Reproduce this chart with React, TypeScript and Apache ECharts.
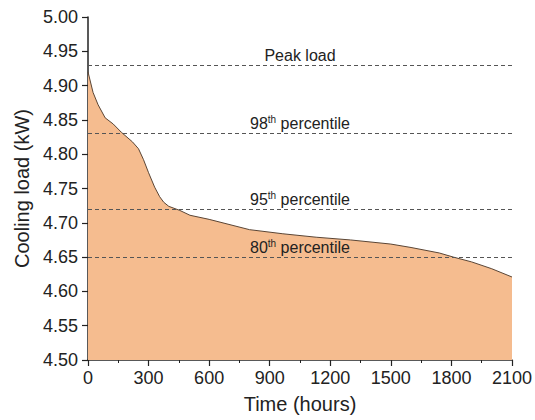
import React, { useEffect, useRef } from "react";
import * as echarts from "echarts";

const hours = [0, 25, 50, 85, 125, 165, 220, 250, 275, 300, 330, 355, 375, 400, 455, 505, 600, 800, 965, 1130, 1300, 1500, 1600, 1740, 1810, 1900, 2000, 2100];
const load = [4.92, 4.89, 4.872, 4.853, 4.844, 4.832, 4.818, 4.808, 4.792, 4.773, 4.752, 4.738, 4.73, 4.724, 4.718, 4.711, 4.705, 4.69, 4.684, 4.679, 4.675, 4.669, 4.664, 4.656, 4.65, 4.643, 4.633, 4.621];

const refNames = ["Peak load", "98", "95", "80"];
const refValues = [4.926, 4.831, 4.722, 4.65];

const font = "Liberation Sans, Arial, Helvetica, sans-serif";

export default function App() {
  const ref = useRef<HTMLDivElement>(null);
  useEffect(() => {
    if (!ref.current) return;
    const chart = echarts.init(ref.current, null, { renderer: "svg" });
    const data = hours.map((h, i) => [h, load[i]]);
    const markData = refValues.map((v, i) => ({
      yAxis: v,
      label: {
        formatter:
          i === 0 ? "{n|Peak load}" : `{n|${refNames[i]}}{sup|th}{n| percentile}`,
      },
    }));
    chart.setOption({
      animation: false,
      textStyle: { fontFamily: font },
      grid: { left: 88, right: 23, top: 17, bottom: 60 },
      xAxis: {
        type: "value",
        min: 0,
        max: 2100,
        interval: 300,
        name: "Time (hours)",
        nameLocation: "middle",
        nameGap: 34,
        nameTextStyle: { fontSize: 20, color: "#222", fontFamily: font },
        axisLine: { show: true, onZero: false, lineStyle: { color: "#222", width: 1.5 } },
        axisTick: { show: true, length: 6, lineStyle: { color: "#222", width: 1.2 } },
        minorTick: { show: true, splitNumber: 2, length: 3, lineStyle: { color: "#222", width: 1 } },
        splitLine: { show: false },
        axisLabel: { fontSize: 18, color: "#222", margin: 9, fontFamily: font, formatter: (v: number) => String(v) },
      },
      yAxis: {
        type: "value",
        min: 4.5,
        max: 5.0,
        interval: 0.05,
        name: "Cooling load (kW)",
        nameLocation: "middle",
        nameGap: 56,
        nameTextStyle: { fontSize: 20, color: "#222", fontFamily: font },
        axisLine: { show: true, onZero: false, lineStyle: { color: "#222", width: 1.5 } },
        axisTick: { show: true, length: 6, lineStyle: { color: "#222", width: 1.2 } },
        splitLine: { show: false },
        axisLabel: {
          fontSize: 18,
          color: "#222",
          margin: 10,
          fontFamily: font,
          formatter: (v: number) => v.toFixed(2),
        },
      },
      series: [
        {
          type: "line",
          data,
          showSymbol: false,
          symbol: "none",
          lineStyle: { color: "#5a4535", width: 1 },
          areaStyle: { color: "#F5BC8F", opacity: 1, origin: "start" },
          z: 2,
          markLine: {
            silent: true,
            symbol: ["none", "none"],
            lineStyle: { type: [4, 3], color: "#555", width: 1.2 },
            label: {
              show: true,
              position: "middle",
              distance: 1,
              color: "#222",
              rich: {
                n: { fontSize: 16, color: "#222", fontFamily: font, lineHeight: 18 },
                sup: { fontSize: 10, color: "#222", fontFamily: font, verticalAlign: "top", lineHeight: 18, padding: [0, 0, 6, 0] },
              },
            },
            emphasis: { disabled: true },
            data: markData,
          },
        },
      ],
    });
    return () => chart.dispose();
  }, []);
  return <div ref={ref} style={{ width: 535, height: 420, position: "absolute", left: 0, top: 0, background: "#fff" }} />;
}
